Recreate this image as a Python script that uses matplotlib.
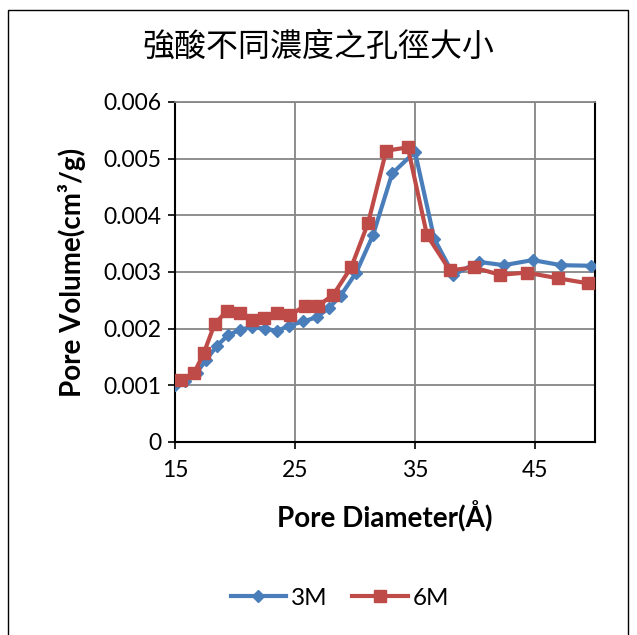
import matplotlib

matplotlib.use("Agg")

import matplotlib.pyplot as plt
from matplotlib.patches import Rectangle

plt.rcParams["font.family"] = ["Lato", "DejaVu Sans"]

# 3M series
diam_3m = [15.0, 15.8, 16.8, 17.6, 18.5, 19.4, 20.4, 21.4, 22.5, 23.5, 24.5, 25.7, 26.8,
           27.8, 28.8, 30.1, 31.5, 33.1, 35.0, 36.6, 38.2, 40.3, 42.4, 44.8, 47.2, 49.7]
vol_3m = [0.00100, 0.00108, 0.00122, 0.00145, 0.00170, 0.00188, 0.00198, 0.00203,
          0.00200, 0.00196, 0.00205, 0.00213, 0.00220, 0.00236, 0.00258, 0.00299,
          0.00365, 0.00474, 0.00512, 0.00359, 0.00295, 0.00318, 0.00312, 0.00321,
          0.00312, 0.00311]

# 6M series
diam_6m = [15.5, 16.6, 17.4, 18.3, 19.3, 20.4, 21.4, 22.4, 23.5, 24.6, 25.8, 26.9,
           28.2, 29.7, 31.1, 32.6, 34.4, 36.0, 37.9, 39.9, 42.1, 44.3, 46.9, 49.4]
vol_6m = [0.00110, 0.00122, 0.00157, 0.00208, 0.00231, 0.00228, 0.00215, 0.00218,
          0.00227, 0.00224, 0.00240, 0.00240, 0.00260, 0.00309, 0.00387, 0.00514,
          0.00520, 0.00365, 0.00303, 0.00308, 0.00295, 0.00299, 0.00289, 0.00280]

x_ticks = [15, 25, 35, 45]
y_ticks = [0, 0.001, 0.002, 0.003, 0.004, 0.005, 0.006]
y_tick_labels = ["0", "0.001", "0.002", "0.003", "0.004", "0.005", "0.006"]

BLUE = "#4A7EBB"
RED = "#BE4B48"
GRID = "#868686"

fig = plt.figure(figsize=(6.37, 6.35), dpi=100)
fig.patches.append(Rectangle((8 / 637, -0.01), 620 / 637, 1 - 10 / 635 + 0.01,
                             transform=fig.transFigure, fill=False,
                             edgecolor="#000000", lw=1.0))

ax = fig.add_axes([175 / 637, 1 - 442 / 635, 420 / 637, 340 / 635])

ax.plot(diam_3m, vol_3m, color=BLUE, lw=3, marker="D", ms=6,
        markeredgecolor=BLUE, label="3M", zorder=3)
ax.plot(diam_6m, vol_6m, color=RED, lw=3, marker="s", ms=8,
        markeredgecolor=RED, label="6M", zorder=4)

ax.set_xlim(15, 50)
ax.set_ylim(0, 0.006)
ax.set_xticks(x_ticks)
ax.set_yticks(y_ticks)
ax.set_yticklabels(y_tick_labels)
ax.tick_params(labelsize=16.5, length=5, width=1.2, direction="out", pad=5)
ax.tick_params(axis="x", pad=8)
ax.grid(True, color=GRID, lw=1.3, zorder=0)
ax.set_axisbelow(True)

for side in ["left", "bottom", "right"]:
    ax.spines[side].set_color("#000000")
    ax.spines[side].set_linewidth(1.5)
ax.spines["top"].set_color(GRID)
ax.spines["top"].set_linewidth(1.3)

ax.set_xlabel("Pore Diameter(Å)", fontsize=20, fontweight="bold", labelpad=14)
ax.set_ylabel("Pore Volume(cm³/g)", fontsize=20, fontweight="bold", labelpad=12)

fig.text(318 / 637, 1 - 47 / 635, "強酸不同濃度之孔徑大小", ha="center", va="center",
         fontsize=23, family=["Noto Sans CJK TC", "DejaVu Sans"])

fig.legend(loc="center", bbox_to_anchor=(340 / 637, 1 - 598 / 635), ncol=2,
           frameon=False, fontsize=17.5, handlelength=2.3, columnspacing=1.0,
           handletextpad=0.2)

fig.savefig("out.png", dpi=100)
